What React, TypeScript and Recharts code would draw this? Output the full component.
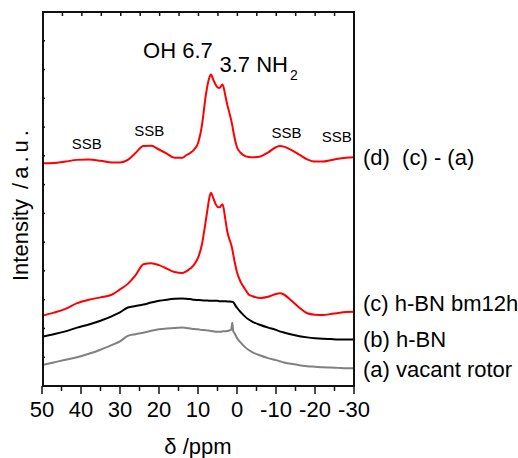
import { LineChart, Line, XAxis, YAxis, ReferenceDot } from "recharts"

// chemical shift (ppm), from left to right on the plot
const ppm = [
  50, 47, 44, 41, 38, 35, 32, 30, 28, 26,
  24, 22, 20, 18, 16, 14, 13, 12, 11, 10,
  9, 8, 7.5, 7, 6.7, 6, 5.5, 5, 4.5, 4,
  3.7, 3, 2.5, 2, 1.5, 1.2, 1, 0.5, 0, -1,
  -2, -3, -4, -6, -8, -10, -11, -12, -14, -16,
  -18, -20, -22, -24, -26, -28, -30,
]

// (a) vacant rotor
const vacantRotor = [
  0.73, 0.82, 0.91, 1.0, 1.12, 1.26, 1.43, 1.55, 1.74, 1.8,
  1.85, 1.92, 1.97, 2.0, 2.02, 2.03, 2.02, 2.0, 1.98, 1.97,
  1.95, 1.94, 1.93, 1.92, 1.91, 1.9, 1.89, 1.89, 1.89, 1.89,
  1.9, 1.9, 1.91, 1.93, 1.95, 2.2, 1.93, 1.8, 1.67, 1.5,
  1.36, 1.25, 1.17, 1.06, 0.97, 0.9, 0.86, 0.82, 0.77, 0.72,
  0.69, 0.67, 0.65, 0.64, 0.63, 0.62, 0.62,
]

// (b) h-BN
const hBN = [
  1.71, 1.8, 1.9, 2.03, 2.14, 2.27, 2.43, 2.56, 2.73, 2.78,
  2.83, 2.9, 2.96, 3.0, 3.03, 3.04, 3.03, 3.02, 3.0, 2.99,
  2.98, 2.97, 2.97, 2.96, 2.96, 2.96, 2.96, 2.96, 2.95, 2.95,
  2.95, 2.95, 2.94, 2.94, 2.93, 2.93, 2.92, 2.82, 2.72, 2.56,
  2.42, 2.31, 2.23, 2.12, 2.03, 1.95, 1.9, 1.86, 1.79, 1.73,
  1.69, 1.66, 1.64, 1.63, 1.62, 1.62, 1.62,
]

// (c) h-BN bm12h
const hBNbm12h = [
  2.44, 2.55, 2.68, 2.88, 3.0, 3.08, 3.18, 3.36, 3.55, 3.85,
  4.23, 4.27, 4.2, 4.08, 3.96, 3.93, 3.98, 4.08, 4.22, 4.45,
  4.92, 5.75, 6.2, 6.6, 6.72, 6.5, 6.33, 6.23, 6.21, 6.28,
  6.32, 5.8, 5.38, 5.12, 4.92, 4.75, 4.6, 4.25, 3.95, 3.6,
  3.38, 3.18, 3.12, 3.06, 3.1, 3.2, 3.22, 3.18, 2.96, 2.72,
  2.53, 2.48, 2.47, 2.5, 2.54, 2.57, 2.58,
]

// (d) (c) - (a), shifted up
const difference = [
  7.74, 7.75, 7.8, 7.86, 7.87, 7.83, 7.77, 7.77, 7.86, 8.1,
  8.34, 8.35, 8.22, 8.08, 7.93, 7.93, 8.02, 8.1, 8.22, 8.44,
  9.05, 10.1, 10.5, 10.75, 10.83, 10.62, 10.48, 10.38, 10.36, 10.44,
  10.48, 10.1, 9.78, 9.52, 9.25, 9.05, 8.9, 8.55, 8.3, 8.1,
  8.0, 7.96, 7.95, 7.98, 8.12, 8.3, 8.34, 8.32, 8.2, 8.04,
  7.88, 7.8, 7.8, 7.85, 7.9, 7.93, 7.95,
]

const xDomain = [-30, 50]
const yDomain = [0, 13]
const xMinorTicks = [50, 45, 40, 35, 30, 25, 20, 15, 10, 5, 0, -5, -10, -15, -20, -25, -30]
const yTicks = [0, 1, 2, 3, 4, 5, 6, 7, 8, 9, 10, 11, 12, 13]

// spinning side band annotations
const ssbX = [38.5, 22.5, -12.7, -25.6]
const ssbY = [8.23, 8.69, 8.61, 8.49]

const curveNames = ["(a) vacant rotor", "(b) h-BN", "(c) h-BN bm12h", "(d)  (c) - (a)"]
const curveNameY = [0.6, 1.65, 2.9, 7.95]

const FONT = "'Liberation Sans', Arial, sans-serif"
const AXIS = "#111"

// plot box (chart margins)
const W = 518
const H = 458
const LEFT = 43
const TOP = 12
const RIGHT = 354
const BOTTOM = 386

const data = ppm.map((p, i) => ({
  ppm: p,
  a: vacantRotor[i],
  b: hBN[i],
  c: hBNbm12h[i],
  d: difference[i],
}))

// bottom ticks go outward, long at the labelled values
const BottomTick = (props: any) => {
  const { x, y, payload } = props
  const major = payload.value % 10 === 0
  return (
    <g>
      <line x1={x} x2={x} y1={y} y2={y + (major ? 8 : 5)} stroke={AXIS} strokeWidth={1.5} />
      {major && (
        <text x={x} y={y + 31} textAnchor="middle" fontSize={22} fontFamily={FONT} fill="#000">
          {payload.value}
        </text>
      )}
    </g>
  )
}

// frame of the plot box with the inward top ticks, laid over the chart
function Frame() {
  const toX = (v: number) => LEFT + ((xDomain[1] - v) / (xDomain[1] - xDomain[0])) * (RIGHT - LEFT)
  return (
    <svg
      width={W}
      height={H}
      style={{ position: "absolute", left: 0, top: 0, pointerEvents: "none", zIndex: 2 }}
    >
      <line x1={LEFT} x2={LEFT} y1={TOP - 1} y2={BOTTOM + 1} stroke={AXIS} strokeWidth={2} />
      <line x1={RIGHT} x2={RIGHT} y1={TOP - 1} y2={BOTTOM + 1} stroke={AXIS} strokeWidth={2} />
      <line x1={LEFT - 1} x2={RIGHT + 1} y1={TOP} y2={TOP} stroke={AXIS} strokeWidth={2} />
      <line x1={LEFT - 1} x2={RIGHT + 1} y1={BOTTOM} y2={BOTTOM} stroke={AXIS} strokeWidth={2} />
      {xMinorTicks.map((t) => (
        <line key={t} x1={toX(t)} x2={toX(t)} y1={TOP} y2={TOP + 4} stroke={AXIS} strokeWidth={1.5} />
      ))}
    </svg>
  )
}

export default function App() {
  return (
    <div style={{ position: "absolute", left: 0, top: 0, width: W, height: H, background: "#fff" }}>
      <LineChart
        width={W}
        height={H}
        data={data}
        margin={{ top: TOP, right: W - RIGHT - 1, bottom: H - BOTTOM - 1, left: LEFT - 1 }}
      >
        <XAxis
          dataKey="ppm"
          type="number"
          domain={xDomain}
          reversed
          ticks={xMinorTicks}
          interval={0}
          height={1}
          tickSize={0}
          tickMargin={0}
          tickLine={false}
          axisLine={false}
          tick={<BottomTick />}
          label={{
            content: (p: any) => (
              <text
                x={p.viewBox.x + p.viewBox.width / 2}
                y={454}
                textAnchor="middle"
                fontSize={22}
                fontFamily={FONT}
                fill="#000"
              >
                δ /ppm
              </text>
            ),
          }}
        />
        <YAxis
          type="number"
          domain={yDomain}
          ticks={yTicks}
          interval={0}
          width={1}
          mirror
          tickSize={3}
          tickFormatter={() => ""}
          stroke={AXIS}
          strokeWidth={1.5}
          axisLine={false}
          label={{
            content: () => (
              <text
                x={28}
                y={281}
                transform="rotate(-90 28 281)"
                textAnchor="start"
                fontSize={22}
                fontFamily={FONT}
                fill="#000"
              >
                Intensity
                <tspan letterSpacing={4}> /a.u.</tspan>
              </text>
            ),
          }}
        />
        <YAxis
          yAxisId="right"
          orientation="right"
          type="number"
          domain={yDomain}
          ticks={yTicks}
          interval={0}
          width={1}
          tickSize={3}
          tickFormatter={() => ""}
          stroke={AXIS}
          strokeWidth={1.5}
          axisLine={false}
        />

        <Line dataKey="a" type="monotone" stroke="#808080" strokeWidth={2} dot={false} isAnimationActive={false} />
        <Line dataKey="b" type="monotone" stroke="#000000" strokeWidth={2} dot={false} isAnimationActive={false} />
        <Line dataKey="c" type="monotone" stroke="#ff0000" strokeWidth={2} dot={false} isAnimationActive={false} />
        <Line dataKey="d" type="monotone" stroke="#ff0000" strokeWidth={2} dot={false} isAnimationActive={false} />

        {ssbX.map((x, i) => (
          <ReferenceDot
            key={`ssb-${i}`}
            x={x}
            y={ssbY[i]}
            r={0}
            shape={(p: any) => (
              <text x={p.cx} y={p.cy} textAnchor="middle" fontSize={15} fontFamily={FONT} fill="#000">
                SSB
              </text>
            )}
          />
        ))}

        {curveNames.map((name, i) => (
          <ReferenceDot
            key={`name-${i}`}
            x={-30}
            y={curveNameY[i]}
            r={0}
            shape={(p: any) => (
              <text
                x={p.cx + 9}
                y={p.cy + 8}
                fontSize={22}
                fontFamily={FONT}
                fill="#000"
                style={{ whiteSpace: "pre" }}
              >
                {name}
              </text>
            )}
          />
        ))}

        <ReferenceDot
          x={6.2}
          y={11.39}
          r={0}
          shape={(p: any) => (
            <text x={p.cx} y={p.cy} textAnchor="end" fontSize={22} fontFamily={FONT} fill="#000">
              OH 6.7
            </text>
          )}
        />
        <ReferenceDot
          x={4.5}
          y={10.92}
          r={0}
          shape={(p: any) => (
            <text x={p.cx} y={p.cy} fontSize={22} fontFamily={FONT} fill="#000">
              3.7 NH
              <tspan fontSize={14} dx={2} dy={8}>2</tspan>
            </text>
          )}
        />
      </LineChart>
      <Frame />
    </div>
  )
}
